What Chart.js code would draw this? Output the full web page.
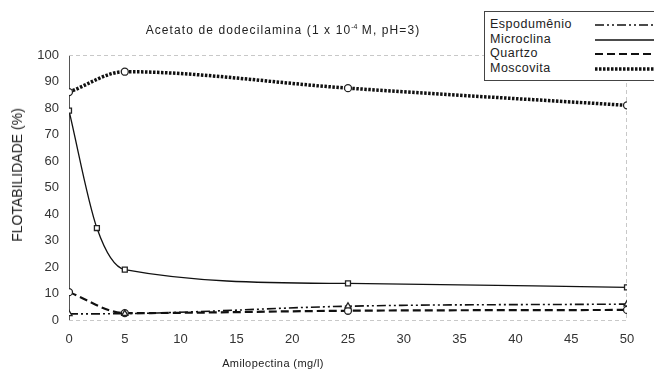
<!DOCTYPE html>
<html><head><meta charset="utf-8">
<script src="https://cdn.jsdelivr.net/npm/chart.js@4.4.1/dist/chart.umd.min.js"></script>
<style>
html,body{margin:0;padding:0;background:#fff;}
#wrap{position:relative;width:654px;height:379px;font-family:"Liberation Sans",Arial,sans-serif;color:#222;}
canvas{position:absolute;left:0;top:0;}
#title{position:absolute;left:103px;top:23px;width:360px;text-align:center;font-size:12px;letter-spacing:1.1px;white-space:nowrap;}
#title sup{font-size:7px;vertical-align:5px;letter-spacing:0;}
#xtitle{position:absolute;left:200px;top:357px;width:146px;text-align:center;font-size:11px;letter-spacing:0.4px;white-space:nowrap;}
#ytitle{position:absolute;left:17px;top:175px;transform:translate(-50%,-50%) rotate(-90deg);font-size:14px;white-space:nowrap;line-height:16px;}
#legend{position:absolute;left:484px;top:11px;width:180px;height:68px;border:1px solid #444;background:#fff;font-size:12.5px;letter-spacing:0.5px;line-height:15px;}
#legend .row{position:absolute;left:5px;white-space:nowrap;}
#legend svg{position:absolute;left:110px;}
</style></head>
<body>
<div id="wrap">
<canvas id="c" width="654" height="379"></canvas>
<div id="title">Acetato de dodecilamina (1 x 10<sup>-4</sup> M, pH=3)</div>
<div id="xtitle">Amilopectina (mg/l)</div>
<div id="ytitle">FLOTABILIDADE (%)</div>
<div id="legend"></div>
</div>
<script>
// Data
const seriesNames = ["Espodumênio", "Microclina", "Quartzo", "Moscovita"];
const espodumenioX = [0, 5, 25, 50];
const espodumenioY = [2.3, 2.4, 5.2, 6.0];
const microclinaX = [0, 2.5, 5, 25, 50];
const microclinaY = [79, 34.7, 19, 13.8, 12.3];
const quartzoX = [0, 5, 25, 50];
const quartzoY = [10.5, 2.6, 3.5, 3.8];
const moscovitaX = [0, 5, 25, 50];
const moscovitaY = [86, 93.7, 87.5, 81];
const xTicks = [0, 5, 10, 15, 20, 25, 30, 35, 40, 45, 50];
const yTicks = [0, 10, 20, 30, 40, 50, 60, 70, 80, 90, 100];

function pts(xs, ys){ return xs.map((x,i)=>({x:x, y:ys[i]})); }

const styles = [
  {dash:[9,3,2,3,2,3], width:1.6, point:'triangle'},
  {dash:[], width:1.3, point:'rect'},
  {dash:[8,4], width:2.2, point:'circle'},
  {dash:[2.5,1.5], width:3.5, point:'circle'}
];
const dataSets = [[espodumenioX, espodumenioY],[microclinaX, microclinaY],[quartzoX, quartzoY],[moscovitaX, moscovitaY]];

const datasets = dataSets.map((d,i)=>({
  label: seriesNames[i],
  data: pts(d[0], d[1]),
  borderColor:'#111',
  backgroundColor:'#fff',
  borderWidth: styles[i].width,
  borderDash: styles[i].dash,
  cubicInterpolationMode:'monotone',
  pointStyle: styles[i].point,
  pointRadius: 3.5,
  pointBorderWidth: 1.3,
  pointBorderColor:'#222',
  pointBackgroundColor:'#fff'
}));

// HTML legend
const legend = document.getElementById('legend');
const rowTops = [5, 20, 34, 49];
seriesNames.forEach((n,i)=>{
  const r = document.createElement('div');
  r.className='row'; r.style.top = rowTops[i]+'px'; r.textContent = n;
  legend.appendChild(r);
  const svg = document.createElementNS('http://www.w3.org/2000/svg','svg');
  svg.setAttribute('width','70'); svg.setAttribute('height','10');
  svg.style.top = (rowTops[i]+3)+'px';
  const ln = document.createElementNS('http://www.w3.org/2000/svg','line');
  ln.setAttribute('x1','0'); ln.setAttribute('x2','70'); ln.setAttribute('y1','5'); ln.setAttribute('y2','5');
  ln.setAttribute('stroke','#111'); ln.setAttribute('stroke-width', styles[i].width);
  if (styles[i].dash.length) ln.setAttribute('stroke-dasharray', styles[i].dash.join(' '));
  svg.appendChild(ln); legend.appendChild(svg);
});

const frame = {
  id:'frame',
  beforeDatasetsDraw(chart){
    const {ctx, chartArea:a} = chart;
    ctx.save();
    ctx.strokeStyle='#c8c8c8'; ctx.lineWidth=1; ctx.setLineDash([4,3]);
    ctx.beginPath();
    ctx.moveTo(a.left, a.top+0.5); ctx.lineTo(a.right, a.top+0.5);
    ctx.moveTo(a.right-0.5, a.top); ctx.lineTo(a.right-0.5, a.bottom);
    ctx.moveTo(a.left, a.bottom+0.5); ctx.lineTo(a.right, a.bottom+0.5);
    ctx.stroke();
    ctx.restore();
  }
};

new Chart(document.getElementById('c'), {
  type:'line',
  data:{datasets},
  options:{
    responsive:false, animation:false,
    layout:{padding:{left:0, right:27, top:55, bottom:0}},
    plugins:{legend:{display:false}, title:{display:false}, tooltip:{enabled:false}},
    scales:{
      x:{type:'linear', min:0, max:50,
        afterBuildTicks(s){ s.ticks = xTicks.map(v=>({value:v})); },
        afterFit(s){ s.height = 59; },
        grid:{display:false, drawTicks:false},
        border:{display:false},
        ticks:{padding:12, color:'#333', font:{family:'Liberation Sans', size:13}, maxRotation:0}
      },
      y:{type:'linear', min:0, max:100,
        afterBuildTicks(s){ s.ticks = yTicks.map(v=>({value:v})); },
        afterFit(s){ s.width = 69; },
        grid:{display:false, drawTicks:false},
        border:{display:true, color:'#555', width:1},
        ticks:{padding:10, color:'#333', font:{family:'Liberation Sans', size:13}}
      }
    }
  },
  plugins:[frame]
});
</script>
</body></html>
